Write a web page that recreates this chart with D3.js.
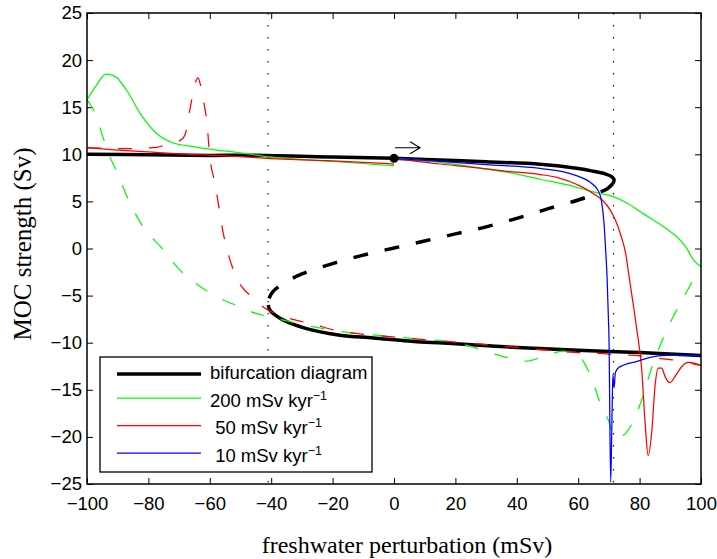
<!DOCTYPE html>
<html>
<head>
<meta charset="utf-8">
<script src="https://cdnjs.cloudflare.com/ajax/libs/d3/7.8.5/d3.min.js"></script>
<style>
  body { margin: 0; background: #fff; }
  svg { display: block; }
  .tick text { font-family: "Liberation Sans", Arial, Helvetica, sans-serif; font-size: 18.5px; fill: #000; }
  .tick line { stroke: #000; stroke-width: 1; }
</style>
</head>
<body>
<div id="chart"></div>
<script>
// axis ticks
var xTicks = [-100, -80, -60, -40, -20, 0, 20, 40, 60, 80, 100];
var yTicks = [-25, -20, -15, -10, -5, 0, 5, 10, 15, 20, 25];

// bifurcation diagram: stable upper, unstable middle, stable lower
var upperBranch = [[-100, 10.0], [-80, 9.95], [-60, 9.88], [-47, 9.9], [-20, 9.72], [0, 9.57], [15, 9.4],
  [30, 9.2], [47.6, 8.95], [60, 8.5], [65, 8.2], [69, 7.9], [71, 7.6], [71.7, 7.25], [71.3, 6.9]];
var unstableBranch = [[71.3, 6.9], [69.5, 6.35], [66, 5.85], [60, 5.15], [50, 4.2], [40, 3.2], [30, 2.3],
  [20, 1.55], [10, 0.8], [0, 0.05], [-10, -0.7], [-20, -1.6], [-30, -2.7], [-36, -3.7], [-39.5, -4.6],
  [-40.8, -5.4], [-41, -6.0]];
var lowerBranch = [[-41, -6.0], [-40.5, -6.5], [-39, -7.0], [-36, -7.6], [-28.5, -8.5], [-17.6, -9.2],
  [-6.7, -9.5], [7.4, -9.9], [20, -10.1], [40, -10.5], [60, -10.8], [80, -11.05], [100, -11.35]];

// 200 mSv/kyr
var green200Up = [[0, 9.57], [15, 9.15], [25, 8.7], [36.7, 8.1], [47.6, 7.35], [58.4, 6.6], [65, 6.0],
  [71.4, 5.5], [76, 4.8], [81.2, 3.7], [86, 2.7], [90, 1.8], [92.1, 1.25], [95, 0.2], [97.5, -1.2], [100, -1.9]];
var green200Down = [[-100, 15.8], [-98.5, 15.05], [-96.9, 14.0], [-95, 12.0], [-92.5, 9.7], [-90.3, 8.15],
  [-86, 4.8], [-81.7, 2.3], [-75.5, 0.0], [-69.7, -2.3], [-65.4, -3.5], [-57.8, -5.1], [-50.2, -6.2],
  [-45.8, -6.8], [-41, -7.2], [-36, -7.6], [-28, -8.2], [-17.6, -8.8], [-6, -9.2], [7.4, -9.6], [20, -10.0],
  [24, -10.3], [29, -10.8], [36, -11.5], [43, -11.95], [50, -11.3], [55, -10.9], [59, -11.1], [61.7, -12.0],
  [64.4, -13.8], [67.6, -16.8], [69.8, -18.2], [71, -19.4], [72.5, -20.1], [74.5, -19.9], [77, -18.9],
  [80, -16.7], [84, -12.6], [87.7, -9.5], [91, -7.2], [95, -4.8], [98, -3.0], [100, -1.9]];
var green200Back = [[-100, 15.8], [-97, 17.3], [-93.8, 18.5], [-91, 18.3], [-87.1, 16.8], [-82.7, 14.35],
  [-77.3, 12.2], [-71.9, 11.2], [-65, 10.8], [-59.9, 10.55], [-50, 10.15], [-41.5, 9.75], [-30, 9.45],
  [-20, 9.25], [-11.1, 9.05], [0, 8.76]];

// 50 mSv/kyr
var red50Up = [[0, 9.57], [15, 8.97], [25, 8.65], [36.7, 8.2], [47.6, 7.85], [53, 7.55], [60.6, 6.65],
  [66, 5.6], [68, 5.1], [70.4, 4.1], [72, 3.1], [74, 1.3], [75.5, -0.6], [76.5, -2.8], [77.5, -5.0],
  [79, -8.4], [80.7, -12.9], [81.8, -18.55], [82.8, -22.0], [84, -19.3], [85, -14.7], [86.1, -12.7],
  [87.2, -12.7], [88.3, -13.6], [89.9, -14.25], [91.5, -13.6], [93.7, -12.55], [95.9, -12.1], [98, -12.2],
  [100, -12.4]];
var red50Down = [[-100, 10.7], [-88.2, 10.6], [-77.3, 10.74], [-72.4, 11.27], [-69.5, 11.5], [-68.1, 12.05],
  [-66.4, 14.9], [-64.6, 17.7], [-63.8, 18.1], [-63, 17.3], [-61.9, 15.4], [-61, 13.6], [-60, 9.75],
  [-58.3, 6.9], [-55.6, 1.6], [-52.3, -2.3], [-49.6, -4.05], [-46.4, -5.1], [-42, -6.35], [-38, -7.0],
  [-33.3, -7.5], [-26.8, -8.0], [-17.6, -8.8], [-6.7, -9.2], [7, -9.6], [20, -9.95], [30, -10.2],
  [40, -10.5], [50, -10.8], [60, -11.05], [70, -11.2], [75, -11.3], [80, -11.4], [85, -11.6], [90, -11.8],
  [96, -12.05], [98, -12.3], [100, -12.4]];
var red50Back = [[-100, 10.7], [-90, 10.45], [-80, 10.25], [-70, 10.05], [-60, 9.9], [-50, 9.75], [-40, 9.55],
  [-30, 9.4], [-20, 9.3], [-10, 9.15], [0, 8.97]];

// 10 mSv/kyr
var blue10Up = [[0, 9.57], [15, 9.25], [30, 8.9], [47.6, 8.5], [58.4, 7.85], [63.8, 7.05], [66.5, 6.15],
  [67.6, 5.0], [68.4, 2.7], [69, -0.5], [69.4, -3.0], [69.8, -7.0], [70.1, -11.0], [70.3, -18],
  [70.6, -24.8], [71.0, -18], [71.3, -13.4], [71.7, -14.8], [72.1, -13.2], [73, -12.7], [74.7, -12.4],
  [79, -12.0], [83.4, -11.55], [88.8, -11.35], [100, -11.35]];

var series = [
  {data: upperBranch, color: "#000", width: 3.5, dash: null, curve: "cr"},
  {data: unstableBranch, color: "#000", width: 3.5, dash: "15,17", curve: "cr"},
  {data: lowerBranch, color: "#000", width: 3.5, dash: null, curve: "cr"},
  {data: green200Up, color: "#00ff00", width: 1.25, dash: null},
  {data: green200Down, color: "#00ff00", width: 1.25, dash: "14,17"},
  {data: green200Back, color: "#00ff00", width: 1.25, dash: null},
  {data: red50Up, color: "#ff0000", width: 1.25, dash: null},
  {data: red50Down, color: "#ff0000", width: 1.25, dash: "14,17"},
  {data: red50Back, color: "#ff0000", width: 1.25, dash: null},
  {data: blue10Up, color: "#0000ff", width: 1.25, dash: null}
];

var legendLabels = ["bifurcation diagram", "200 mSv kyr", " 50 mSv kyr", " 10 mSv kyr"];
var legendColors = ["#000", "#00ff00", "#ff0000", "#0000ff"];
var foldX = [-41, 71.5];
var startPoint = [0, 9.57];

var svgWidth = 717, svgHeight = 559;
var margin = {top: 13, right: 16, bottom: 75, left: 87};
var width = svgWidth - margin.left - margin.right;
var height = svgHeight - margin.top - margin.bottom;

var svg = d3.select("#chart").append("svg")
  .attr("width", svgWidth)
  .attr("height", svgHeight);

var g = svg.append("g")
  .attr("transform", `translate(${margin.left},${margin.top})`);

var x = d3.scaleLinear().domain([-100, 100]).range([0, width]);
var y = d3.scaleLinear().domain([-25, 25]).range([height, 0]);

svg.append("defs").append("clipPath").attr("id", "clip")
  .append("rect").attr("width", width).attr("height", height);

// axes, ticks pointing inward
g.append("g")
  .attr("transform", `translate(0,${height})`)
  .call(d3.axisBottom(x).tickValues(xTicks).tickSizeInner(-6).tickSizeOuter(0).tickPadding(13))
  .call(a => a.select(".domain").remove());
g.append("g")
  .call(d3.axisTop(x).tickValues(xTicks).tickSizeInner(-6).tickSizeOuter(0).tickFormat(""))
  .call(a => a.select(".domain").remove());
g.append("g")
  .call(d3.axisLeft(y).tickValues(yTicks).tickSizeInner(-6).tickSizeOuter(0).tickPadding(5))
  .call(a => a.select(".domain").remove());
g.append("g")
  .attr("transform", `translate(${width},0)`)
  .call(d3.axisRight(y).tickValues(yTicks).tickSizeInner(-6).tickSizeOuter(0).tickFormat(""))
  .call(a => a.select(".domain").remove());

var plot = g.append("g").attr("clip-path", "url(#clip)");

// dotted fold lines
plot.selectAll(".fold")
  .data(foldX)
  .enter().append("line")
  .attr("x1", d => x(d)).attr("x2", d => x(d))
  .attr("y1", 0).attr("y2", height)
  .attr("stroke", "#222")
  .attr("stroke-width", 1.2)
  .attr("stroke-dasharray", "1.5,10.5");

var lineCR = d3.line().x(d => x(d[0])).y(d => y(d[1])).curve(d3.curveCatmullRom.alpha(0.5));
var lineMono = d3.line().x(d => x(d[0])).y(d => y(d[1])).curve(d3.curveMonotoneX);

series.forEach(function(s) {
  plot.append("path")
    .attr("d", s.curve === "cr" ? lineCR(s.data) : lineMono(s.data))
    .attr("fill", "none")
    .attr("stroke", s.color)
    .attr("stroke-width", s.width)
    .attr("stroke-dasharray", s.dash)
    .attr("stroke-linejoin", "round");
});

// starting point and arrow
g.append("circle")
  .attr("cx", x(startPoint[0])).attr("cy", y(startPoint[1]))
  .attr("r", 4.5).attr("fill", "#000");

var ay = y(10.7), ax0 = x(0.3), ax1 = x(8.5);
g.append("path")
  .attr("d", `M${ax0},${ay}H${ax1}M${ax1 - 10},${ay - 6}L${ax1},${ay}L${ax1 - 10},${ay + 6}`)
  .attr("fill", "none").attr("stroke", "#000").attr("stroke-width", 1.1);

// frame
g.append("rect")
  .attr("width", width).attr("height", height)
  .attr("fill", "none").attr("stroke", "#000").attr("stroke-width", 1.5);

// legend
var legend = svg.append("g").attr("transform", "translate(100,357)");
legend.append("rect")
  .attr("width", 272).attr("height", 115)
  .attr("fill", "#fff").attr("stroke", "#000").attr("stroke-width", 1.3);

legendLabels.forEach(function(lab, i) {
  var base = 22 + i * 27.5;
  var ly = base - (i === 0 ? 5 : 8.5);
  legend.append("line")
    .attr("x1", 17).attr("x2", 101)
    .attr("y1", ly).attr("y2", ly)
    .attr("stroke", legendColors[i])
    .attr("stroke-width", i === 0 ? 3.5 : 1.25);
  var t = legend.append("text")
    .attr("x", 110).attr("y", base)
    .attr("xml:space", "preserve")
    .style("font-family", "'Liberation Sans', Arial, Helvetica, sans-serif")
    .style("font-size", "18.5px")
    .style("white-space", "pre")
    .text(lab);
  if (i > 0) {
    t.append("tspan").attr("dy", -7).style("font-size", "12.5px").text("\u22121");
  }
});

// axis labels
svg.append("text")
  .attr("x", 407).attr("y", 553)
  .attr("text-anchor", "middle")
  .style("font-family", "'Liberation Serif', 'Times New Roman', serif")
  .style("font-size", "24px")
  .text("freshwater perturbation (mSv)");

svg.append("text")
  .attr("transform", "translate(31,244) rotate(-90)")
  .attr("text-anchor", "middle")
  .style("font-family", "'Liberation Serif', 'Times New Roman', serif")
  .style("font-size", "25px")
  .text("MOC strength (Sv)");
</script>
</body>
</html>
